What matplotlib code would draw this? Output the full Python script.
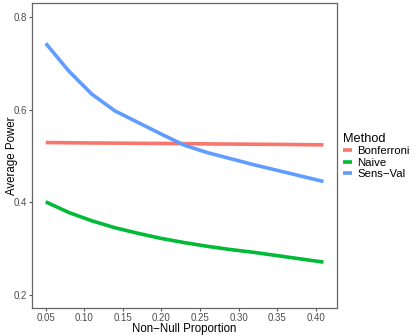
import matplotlib
matplotlib.use("Agg")
from matplotlib import pyplot as plt

plt.rcParams['font.family'] = ['Liberation Sans', 'DejaVu Sans']

proportion = [0.05, 0.08, 0.11, 0.14, 0.17, 0.20, 0.23, 0.26, 0.29, 0.32, 0.35, 0.38, 0.41]
bonferroni = [0.529, 0.5285, 0.528, 0.5277, 0.5273, 0.527, 0.5265, 0.526, 0.5257, 0.5253, 0.525, 0.5245, 0.524]
naive = [0.401, 0.378, 0.360, 0.345, 0.333, 0.322, 0.313, 0.305, 0.298, 0.292, 0.285, 0.278, 0.271]
sens_val = [0.743, 0.683, 0.633, 0.597, 0.572, 0.547, 0.523, 0.507, 0.494, 0.481, 0.469, 0.457, 0.445]

methods = ["Bonferroni", "Naive", "Sens\u2212Val"]
colors = ["#F8766D", "#00BA38", "#619CFF"]

fig = plt.figure(figsize=(4.2, 3.36), dpi=100)
ax = fig.add_axes([32 / 420, 1 - 308 / 336, 305 / 420, 305 / 336])

for vals, name, col in zip([bonferroni, naive, sens_val], methods, colors):
    ax.plot(proportion, vals, color=col, lw=2.6, label=name, solid_capstyle='butt')

ax.set_xlim(0.0322, 0.4276)
ax.set_ylim(0.172, 0.830)
ax.set_xticks([0.05, 0.10, 0.15, 0.20, 0.25, 0.30, 0.35, 0.40])
ax.set_xticklabels(["0.05", "0.10", "0.15", "0.20", "0.25", "0.30", "0.35", "0.40"])
ax.set_yticks([0.2, 0.4, 0.6, 0.8])
ax.set_yticklabels(["0.2", "0.4", "0.6", "0.8"])
ax.tick_params(length=2, width=0.8, color="#555555", labelsize=7, labelcolor="#4D4D4D", pad=1.5)
for s in ax.spines.values():
    s.set_color("#666666")
    s.set_linewidth(0.9)

ax.set_xlabel("Non\u2212Null Proportion", fontsize=8.3, labelpad=0)
ax.set_ylabel("Average Power", fontsize=8.3)
ax.yaxis.set_label_coords(-0.047, 0.5)

leg = ax.legend(loc='upper left', bbox_to_anchor=(343 / 420, 1 - 133 / 336),
                bbox_transform=fig.transFigure, frameon=False, title="Method",
                fontsize=8.2, title_fontsize=9.2, handlelength=0.75, handletextpad=0.5,
                labelspacing=0.12, borderaxespad=0, borderpad=0)
leg._legend_box.align = "left"

fig.savefig("out.png", dpi=100)
